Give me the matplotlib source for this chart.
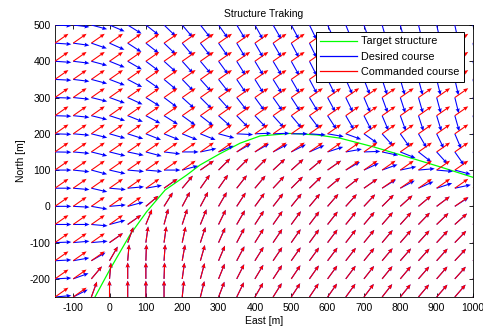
import numpy as np
import matplotlib
matplotlib.use('Agg')
import matplotlib.pyplot as plt
from matplotlib.lines import Line2D

plt.rcParams['font.family'] = ['Liberation Sans', 'DejaVu Sans']
plt.rcParams['axes.unicode_minus'] = False

# grid of the vector field
east = list(range(-150, 1001, 50))     # 24 columns
north = list(range(500, -251, -50))    # 16 rows

# target structure
curve_east = [-40, 0, 56, 102, 153, 212, 249, 300, 359, 414, 496, 570, 634, 726, 817, 909, 1000]
curve_north = [-250, -176, -79, -15, 45, 86, 114, 143, 174, 194, 201, 197, 188, 164, 137, 109, 80]

# desired course angles (deg, from east, counter-clockwise), rows top (500) -> bottom (-250)
desired_deg = [
    [-3, -7, -15, -23, -32, -38, -44, -50, -52, -55, -59, -61, -60, -62, -64, -66, -68, -71, -74, -75, -76, -77, -78, -78],
    [-4, -8, -19, -24, -33, -38, -44, -50, -52, -55, -59, -60, -60, -62, -64, -66, -68, -71, -74, -75, -76, -77, -78, -78],
    [-4, -7, -15, -22, -30, -37, -42, -48, -50, -54, -58, -59, -59, -61, -63, -65, -67, -70, -73, -75, -76, -77, -77, -78],
    [-3, -7, -15, -21, -28, -35, -40, -46, -48, -52, -56, -58, -58, -60, -62, -64, -66, -69, -72, -74, -75, -76, -77, -77],
    [-2, -6, -14, -20, -25, -32, -37, -42, -45, -48, -52, -54, -55, -57, -59, -62, -64, -67, -70, -72, -74, -75, -76, -76],
    [-2, -6, -14, -18, -22, -28, -32, -36, -38, -42, -46, -47, -48, -50, -53, -57, -60, -63, -67, -70, -72, -73, -74, -74],
    [-2, -5, -14, -16, -18, -22, -22, -22, -22, -15, -3, 2, 2, 0, -4, -10, -20, -35, -48, -55, -60, -64, -67, -69],
    [-1, -5, -14, -14, -12, -15, -7, 0, 12, 22, 30, 30, 28, 27, 24, 18, 10, 2, -12, -22, -38, -48, -55, -60],
    [0, -6, -15, -13, -5, -5, 0, 15, 35, 45, 45, 45, 43, 42, 40, 35, 30, 25, 20, 12, 5, -5, -15, -30],
    [0, -5, -13, -5, 5, 10, 35, 50, 55, 55, 52, 50, 47, 45, 44, 40, 38, 35, 32, 28, 24, 18, 12, 5],
    [0, -3, -10, 5, 15, 40, 58, 62, 62, 60, 57, 54, 52, 51, 50, 49, 48, 47, 45, 42, 40, 37, 33, 28],
    [0, 0, -5, 15, 35, 68, 75, 72, 68, 64, 60, 57, 55, 54, 53, 52, 51, 50, 49, 48, 46, 44, 42, 40],
    [2, 5, 5, 35, 70, 82, 82, 78, 72, 66, 62, 58, 56, 55, 54, 53, 52, 51, 50, 49, 48, 47, 46, 45],
    [3, 10, 30, 60, 85, 88, 86, 80, 74, 67, 62, 58, 56, 55, 54, 53, 52, 51, 50, 49, 48, 48, 47, 47],
    [3, 20, 50, 85, 90, 90, 88, 82, 75, 68, 63, 59, 57, 56, 55, 54, 53, 52, 51, 50, 49, 49, 48, 48],
    [5, 27, 70, 90, 90, 90, 90, 84, 76, 69, 64, 60, 58, 57, 56, 55, 54, 53, 52, 51, 50, 49, 49, 48],
]

# commanded course angles (deg)
commanded_deg = [
    [35] * 24,
    [35] * 24,
    [35] * 24,
    [35] * 24,
    [35] * 24,
    [35] * 24,
    [35] * 24,
    [35] * 24,
    [35, 35, 35, 35, 35, 35, 35, 35, 35, 45, 45, 45, 43, 42, 40, 35, 35, 35, 35, 35, 35, 35, 35, 35],
    [35, 35, 35, 35, 35, 35, 35, 50, 55, 55, 52, 50, 47, 45, 44, 40, 38, 35, 35, 35, 35, 35, 35, 35],
    [35, 35, 35, 35, 35, 40, 58, 62, 62, 60, 57, 54, 52, 51, 50, 49, 48, 47, 45, 42, 40, 37, 35, 35],
    [35, 35, 35, 35, 35, 68, 75, 72, 68, 64, 60, 57, 55, 54, 53, 52, 51, 50, 49, 48, 46, 44, 42, 40],
    [35, 35, 35, 35, 70, 82, 82, 78, 72, 66, 62, 58, 56, 55, 54, 53, 52, 51, 50, 49, 48, 47, 46, 45],
    [35, 35, 35, 60, 85, 88, 86, 80, 74, 67, 62, 58, 56, 55, 54, 53, 52, 51, 50, 49, 48, 48, 47, 47],
    [35, 35, 50, 85, 90, 90, 88, 82, 75, 68, 63, 59, 57, 56, 55, 54, 53, 52, 51, 50, 49, 49, 48, 48],
    [35, 35, 70, 90, 90, 90, 90, 84, 76, 69, 64, 60, 58, 57, 56, 55, 54, 53, 52, 51, 50, 49, 49, 48],
]

arrow_len = 45.0

fig = plt.figure(figsize=(4.83, 3.34), dpi=100)
fig.patch.set_facecolor('white')
ax = fig.add_axes([55 / 483, 37 / 334, 418 / 483, 272 / 334])

X, Y = np.meshgrid(east, north)
qkw = dict(angles='xy', scale_units='xy', scale=1, width=0.0026,
           headwidth=3.8, headlength=4.5, headaxislength=4.0)

ax.plot(curve_east, curve_north, color=(0, 1, 0), lw=0.9, zorder=2)

B = np.radians(np.array(desired_deg, dtype=float))
ax.quiver(X, Y, arrow_len * np.cos(B), arrow_len * np.sin(B), color=(0, 0, 1), zorder=3, **qkw)
R = np.radians(np.array(commanded_deg, dtype=float))
ax.quiver(X, Y, arrow_len * np.cos(R), arrow_len * np.sin(R), color=(1, 0, 0), zorder=4, **qkw)

ax.set_xlim(-150, 1000)
ax.set_ylim(-250, 500)
ax.set_xticks(range(-100, 1001, 100))
ax.set_yticks(range(-200, 501, 100))
ax.tick_params(direction='in', length=3, width=0.6, labelsize=7.5, top=True, right=True, pad=3)
ax.tick_params(axis='x', pad=4.5)
for s in ax.spines.values():
    s.set_linewidth(0.6)

ax.set_title('Structure Traking', fontsize=7.5, pad=6)
ax.set_xlabel('East [m]', fontsize=7.5, labelpad=2)
ax.set_ylabel('North [m]', fontsize=7.5, labelpad=3)

handles = [Line2D([], [], color=(0, 1, 0), lw=0.9),
           Line2D([], [], color=(0, 0, 1), lw=0.9),
           Line2D([], [], color=(1, 0, 0), lw=0.9)]
labels = ['Target structure', 'Desired course', 'Commanded course']
leg = ax.legend(handles, labels, loc='upper right', bbox_to_anchor=(0.9785, 0.974),
                borderaxespad=0, fontsize=7.8, fancybox=False, framealpha=1,
                edgecolor='black', handlelength=3.4, handletextpad=0.4,
                labelspacing=0.5, borderpad=0.4)
leg.get_frame().set_linewidth(0.7)
leg.set_zorder(10)

fig.savefig('out.png', dpi=100, facecolor='white')
